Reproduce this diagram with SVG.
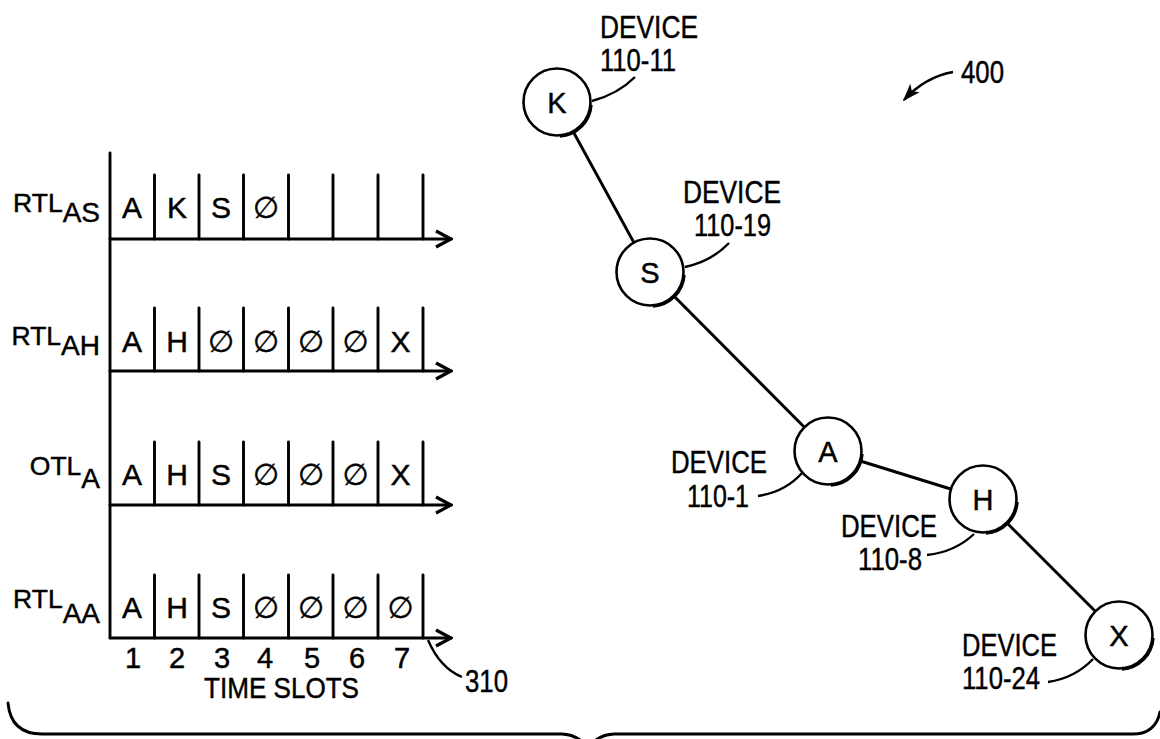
<svg xmlns="http://www.w3.org/2000/svg" width="1160" height="739" viewBox="0 0 1160 739">
<style>
.ln{fill:none;stroke:#000;stroke-width:2.9;stroke-linecap:round;stroke-linejoin:round}
.th{fill:none;stroke:#000;stroke-width:2.4}
.nd{fill:#fff;stroke:#000;stroke-width:2.6}
.sh{fill:none;stroke:#000;stroke-width:2.6}
.t{font-family:"Liberation Sans",Arial,"DejaVu Sans",sans-serif;fill:#000;stroke:#000;stroke-width:0.45}
.cell{font-size:30px;text-anchor:middle}
.num{font-size:29px;text-anchor:middle}
.lab{font-size:32px}
.nl{font-size:29px;text-anchor:middle}
.row{font-size:26.5px;text-anchor:end}
.sub{font-size:28px}
</style>
<defs>
<marker id="chev" viewBox="0 0 20 20" refX="18" refY="10" markerWidth="20" markerHeight="20" markerUnits="userSpaceOnUse" orient="auto">
<path d="M3,2 L18,10 L3,18" fill="none" stroke="#000" stroke-width="3.2" stroke-linejoin="miter"/>
</marker>
<marker id="tri" viewBox="0 0 20 20" refX="18" refY="10" markerWidth="18" markerHeight="18" markerUnits="userSpaceOnUse" orient="auto">
<path d="M0,3 L20,10 L0,17 L5,10 Z" fill="#000"/>
</marker>
</defs>
<g id="time-table">
<line class="ln" x1="110" y1="153" x2="110" y2="638"/>
<g id="row-rtl-as">
<text class="t row" x="100" y="212">RTL<tspan class="sub" dy="10">AS</tspan></text>
<path class="ln" d="M110,239 H451" marker-end="url(#chev)"/>
<path class="ln" d="M154.5,175V239M199,175V239M243.5,175V239M288.5,175V239M333,175V239M378,175V239M423,175V239"/>
<text class="t cell" x="132" y="218">A</text>
<text class="t cell" x="177" y="218">K</text>
<text class="t cell" x="221" y="218">S</text>
<text class="t cell" x="266" y="218">∅</text>
</g>
<g id="row-rtl-ah">
<text class="t row" x="100" y="345">RTL<tspan class="sub" dy="10">AH</tspan></text>
<path class="ln" d="M110,371 H451" marker-end="url(#chev)"/>
<path class="ln" d="M154.5,308V371M199,308V371M243.5,308V371M288.5,308V371M333,308V371M378,308V371M423,308V371"/>
<text class="t cell" x="132" y="352">A</text>
<text class="t cell" x="177" y="352">H</text>
<text class="t cell" x="221" y="352">∅</text>
<text class="t cell" x="266" y="352">∅</text>
<text class="t cell" x="311" y="352">∅</text>
<text class="t cell" x="355.5" y="352">∅</text>
<text class="t cell" x="400.5" y="352">X</text>
</g>
<g id="row-otl-a">
<text class="t row" x="100" y="475">OTL<tspan class="sub" dy="13">A</tspan></text>
<path class="ln" d="M110,505 H451" marker-end="url(#chev)"/>
<path class="ln" d="M154.5,442V505M199,442V505M243.5,442V505M288.5,442V505M333,442V505M378,442V505M423,442V505"/>
<text class="t cell" x="132" y="485">A</text>
<text class="t cell" x="177" y="485">H</text>
<text class="t cell" x="221" y="485">S</text>
<text class="t cell" x="266" y="485">∅</text>
<text class="t cell" x="311" y="485">∅</text>
<text class="t cell" x="355.5" y="485">∅</text>
<text class="t cell" x="400.5" y="485">X</text>
</g>
<g id="row-rtl-aa">
<text class="t row" x="100" y="608">RTL<tspan class="sub" dy="15">AA</tspan></text>
<path class="ln" d="M110,638 H451" marker-end="url(#chev)"/>
<path class="ln" d="M154.5,575V638M199,575V638M243.5,575V638M288.5,575V638M333,575V638M378,575V638M423,575V638"/>
<text class="t cell" x="132" y="618">A</text>
<text class="t cell" x="177" y="618">H</text>
<text class="t cell" x="221" y="618">S</text>
<text class="t cell" x="266" y="618">∅</text>
<text class="t cell" x="311" y="618">∅</text>
<text class="t cell" x="355.5" y="618">∅</text>
<text class="t cell" x="400.5" y="618">∅</text>
</g>
<g id="slot-numbers">
<text class="t num" x="133" y="668">1</text>
<text class="t num" x="177" y="668">2</text>
<text class="t num" x="222" y="668">3</text>
<text class="t num" x="265" y="668">4</text>
<text class="t num" x="312" y="668">5</text>
<text class="t num" x="357" y="668">6</text>
<text class="t num" x="402" y="668">7</text>
<text class="t lab" x="204" y="698" style="font-size:29px" textLength="155" lengthAdjust="spacingAndGlyphs">TIME SLOTS</text>
</g>
<g id="ref-310">
<path class="th" d="M428,640 Q440,668 462,677"/>
<text class="t lab" x="465" y="692" textLength="43" lengthAdjust="spacingAndGlyphs">310</text>
</g>
</g>
<g id="connectors">
<line class="ln" x1="557" y1="102" x2="650" y2="272"/>
<line class="ln" x1="650" y1="272" x2="828" y2="451"/>
<line class="ln" x1="828" y1="451" x2="983" y2="499"/>
<line class="ln" x1="983" y1="499" x2="1119" y2="635"/>
<path class="th" d="M592,101 Q618,94 635,77"/>
<path class="th" d="M685,267 Q712,261 729,243"/>
<path class="th" d="M802,473 Q785,492 758,496"/>
<path class="th" d="M974,534 Q955,552 927,555"/>
<path class="th" d="M1093,659 Q1075,678 1048,682"/>
</g>
<g id="node-k">
<circle class="nd" cx="557" cy="102" r="33.5"/>
<path class="sh" d="M590.5,104 A33.5,33.5 0 0 1 559,135.5" transform="translate(0.9,0.9)"/>
<text class="t nl" x="557" y="112.5">K</text>
<text class="t lab" x="600" y="38" textLength="98" lengthAdjust="spacingAndGlyphs">DEVICE</text>
<text class="t lab" x="600" y="71" textLength="76" lengthAdjust="spacingAndGlyphs">110-11</text>
</g>
<g id="node-s">
<circle class="nd" cx="650" cy="272" r="33.5"/>
<path class="sh" d="M683.5,274 A33.5,33.5 0 0 1 652,305.5" transform="translate(0.9,0.9)"/>
<text class="t nl" x="650" y="282.5">S</text>
<text class="t lab" x="683" y="203" textLength="98" lengthAdjust="spacingAndGlyphs">DEVICE</text>
<text class="t lab" x="694" y="236" textLength="77" lengthAdjust="spacingAndGlyphs">110-19</text>
</g>
<g id="node-a">
<circle class="nd" cx="828" cy="451" r="33.5"/>
<path class="sh" d="M861.5,453 A33.5,33.5 0 0 1 830,484.5" transform="translate(0.9,0.9)"/>
<text class="t nl" x="828" y="461.5">A</text>
<text class="t lab" x="671" y="473" textLength="96" lengthAdjust="spacingAndGlyphs">DEVICE</text>
<text class="t lab" x="687" y="507" textLength="62" lengthAdjust="spacingAndGlyphs">110-1</text>
</g>
<g id="node-h">
<circle class="nd" cx="983" cy="499" r="33.5"/>
<path class="sh" d="M1016.5,501 A33.5,33.5 0 0 1 985,532.5" transform="translate(0.9,0.9)"/>
<text class="t nl" x="983" y="509.5">H</text>
<text class="t lab" x="841" y="537" textLength="96" lengthAdjust="spacingAndGlyphs">DEVICE</text>
<text class="t lab" x="858" y="570" textLength="64" lengthAdjust="spacingAndGlyphs">110-8</text>
</g>
<g id="node-x">
<circle class="nd" cx="1119" cy="635" r="33.5"/>
<path class="sh" d="M1152.5,637 A33.5,33.5 0 0 1 1121,668.5" transform="translate(0.9,0.9)"/>
<text class="t nl" x="1119" y="645.5">X</text>
<text class="t lab" x="962" y="656" textLength="95" lengthAdjust="spacingAndGlyphs">DEVICE</text>
<text class="t lab" x="962" y="689" textLength="78" lengthAdjust="spacingAndGlyphs">110-24</text>
</g>
<g id="ref-400">
<path class="th" d="M953,72 Q925,77 904,100" marker-end="url(#tri)"/>
<text class="t lab" x="961" y="83" textLength="43" lengthAdjust="spacingAndGlyphs">400</text>
</g>
<g id="brace">
<path class="ln" d="M8,703 C10,725 22,734 42,734 L562,734 Q575,734 588,746 Q601,734 614,734 L1133,734 C1148,734 1157,726 1160,712"/>
</g>
</svg>
